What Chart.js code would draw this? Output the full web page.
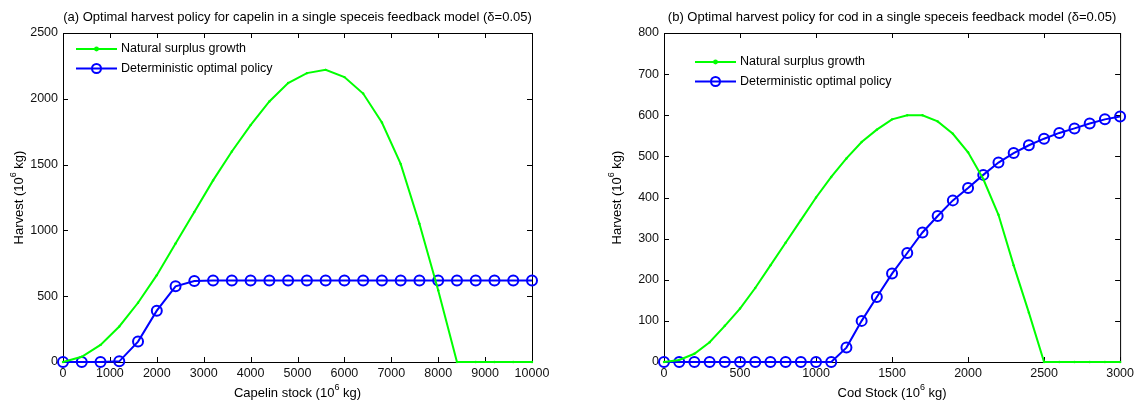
<!DOCTYPE html>
<html>
<head>
<meta charset="utf-8">
<script src="https://cdn.jsdelivr.net/npm/chart.js@4/dist/chart.umd.min.js"></script>
<style>
  body { margin: 0; background: #fff; }
  canvas { position: absolute; top: 0; }
</style>
</head>
<body>
<canvas id="capelinChart" width="569" height="405" style="left:0"></canvas>
<canvas id="codChart" width="569" height="405" style="left:569px"></canvas>
<script>
// (a) capelin
const capelinStock = [0, 400, 800, 1200, 1600, 2000, 2400, 2800, 3200, 3600, 4000, 4400, 4800,
  5200, 5600, 6000, 6400, 6800, 7200, 7600, 8000, 8400, 8800, 9200, 9600, 10000];
const capelinSurplus = [0, 40, 130, 270, 450, 660, 900, 1140, 1380, 1600, 1800, 1980, 2120,
  2195, 2220, 2165, 2040, 1820, 1505, 1050, 545, 0, 0, 0, 0, 0];
const capelinPolicy = [0, 0, 0, 5, 155, 390, 575, 615, 620, 620, 620, 620, 620,
  620, 620, 620, 620, 620, 620, 620, 620, 620, 620, 620, 620, 620];
const capelinXTicks = [0, 1000, 2000, 3000, 4000, 5000, 6000, 7000, 8000, 9000, 10000];
const capelinYTicks = [0, 500, 1000, 1500, 2000, 2500];

// (b) cod
const codStock = [0, 100, 200, 300, 400, 500, 600, 700, 800, 900, 1000, 1100, 1200, 1300, 1400, 1500,
  1600, 1700, 1800, 1900, 2000, 2100, 2200, 2300, 2400, 2500, 2600, 2700, 2800, 2900, 3000];
const codSurplus = [0, 5, 20, 48, 88, 130, 180, 235, 290, 345, 400, 450, 495, 535, 565, 590,
  600, 600, 585, 555, 510, 445, 358, 235, 120, 0, 0, 0, 0, 0, 0];
const codPolicy = [0, 0, 0, 0, 0, 0, 0, 0, 0, 0, 0, 0, 35, 100, 158, 215,
  265, 315, 355, 393, 423, 455, 485, 508, 527, 543, 557, 568, 580, 590, 597];
const codXTicks = [0, 500, 1000, 1500, 2000, 2500, 3000];
const codYTicks = [0, 100, 200, 300, 400, 500, 600, 700, 800];

const seriesNames = ["Natural surplus growth", "Deterministic optimal policy"];
const FONT = "'Liberation Sans', Arial, sans-serif";

// text with a superscript part: [before, sup, after]
function drawSupText(ctx, parts, x, y, size) {
  ctx.font = size + "px " + FONT;
  const w1 = ctx.measureText(parts[0]).width;
  const w3 = ctx.measureText(parts[2]).width;
  ctx.font = Math.round(size * 0.7) + "px " + FONT;
  const w2 = ctx.measureText(parts[1]).width;
  let cx = x - (w1 + w2 + w3) / 2;
  ctx.textAlign = "left";
  ctx.textBaseline = "middle";
  ctx.font = size + "px " + FONT;
  ctx.fillText(parts[0], cx, y);
  cx += w1;
  ctx.font = Math.round(size * 0.7) + "px " + FONT;
  ctx.fillText(parts[1], cx, y - size * 0.4);
  cx += w2;
  ctx.font = size + "px " + FONT;
  ctx.fillText(parts[2], cx, y);
}

// matlab-like box, inward ticks, titles and legend
const matlabAxes = {
  id: "matlabAxes",
  beforeDatasetsDraw(chart, args, opts) {
    const { ctx, chartArea: a, scales } = chart;
    ctx.save();
    ctx.strokeStyle = "#000";
    ctx.lineWidth = 1;
    ctx.strokeRect(a.left + 0.5, a.top + 0.5, a.right - a.left, a.bottom - a.top);
    ctx.beginPath();
    scales.x.ticks.forEach(t => {
      const px = Math.round(scales.x.getPixelForValue(t.value)) + 0.5;
      ctx.moveTo(px, a.bottom); ctx.lineTo(px, a.bottom - 5);
      ctx.moveTo(px, a.top); ctx.lineTo(px, a.top + 5);
    });
    scales.y.ticks.forEach(t => {
      const py = Math.round(scales.y.getPixelForValue(t.value)) + 0.5;
      ctx.moveTo(a.left, py); ctx.lineTo(a.left + 5, py);
      ctx.moveTo(a.right, py); ctx.lineTo(a.right - 5, py);
    });
    ctx.stroke();
    ctx.restore();
  },
  afterDraw(chart, args, opts) {
    const { ctx, chartArea: a } = chart;
    ctx.save();
    ctx.fillStyle = "#000";
    // title
    ctx.font = "13px " + FONT;
    ctx.textAlign = "center";
    ctx.textBaseline = "middle";
    ctx.fillText(opts.title, (a.left + a.right) / 2, 17);
    // axis titles
    drawSupText(ctx, opts.xTitle, (a.left + a.right) / 2, 393, 13);
    ctx.translate(opts.yTitleX, (a.top + a.bottom) / 2);
    ctx.rotate(-Math.PI / 2);
    drawSupText(ctx, opts.yTitle, 0, 0, 13);
    ctx.restore();

    // legend
    ctx.save();
    chart.data.datasets.forEach((ds, i) => {
      const y = a.top + opts.legendY + i * 19.5;
      const x0 = a.left + opts.legendX;
      ctx.strokeStyle = ds.borderColor;
      ctx.lineWidth = 2;
      ctx.beginPath();
      ctx.moveTo(x0, y); ctx.lineTo(x0 + 41, y);
      ctx.stroke();
      ctx.beginPath();
      if (ds.pointRadius > 3) {
        ctx.arc(x0 + 20.5, y, ds.pointRadius - 0.5, 0, Math.PI * 2);
        ctx.stroke();
      } else {
        ctx.fillStyle = ds.borderColor;
        ctx.arc(x0 + 20.5, y, 2.4, 0, Math.PI * 2);
        ctx.fill();
      }
      ctx.fillStyle = "#000";
      ctx.font = "12.5px " + FONT;
      ctx.textAlign = "left";
      ctx.textBaseline = "middle";
      ctx.fillText(ds.label, x0 + 45, y);
    });
    ctx.restore();
  }
};

function makeChart(id, xs, surplus, policy, xTicks, yTicks, padRight, yWidth, axesOpts) {
  const toPts = vals => vals.map((v, i) => ({ x: xs[i], y: v }));
  return new Chart(document.getElementById(id), {
    type: "line",
    data: {
      datasets: [
        {
          label: seriesNames[0],
          data: toPts(surplus),
          borderColor: "#00ff00",
          backgroundColor: "#00ff00",
          borderWidth: 2,
          pointRadius: 1.2,
          pointBorderWidth: 0,
          tension: 0,
          clip: false,
        },
        {
          label: seriesNames[1],
          data: toPts(policy),
          borderColor: "#0000ff",
          backgroundColor: "rgba(0,0,0,0)",
          borderWidth: 2,
          pointRadius: 5,
          pointBorderWidth: 2,
          tension: 0,
          clip: false,
        },
      ],
    },
    options: {
      responsive: false,
      animation: false,
      devicePixelRatio: 1,
      layout: { padding: { top: 33, right: padRight, left: 0, bottom: 0 } },
      plugins: {
        legend: { display: false },
        tooltip: { enabled: false },
        matlabAxes: axesOpts,
      },
      scales: {
        x: {
          type: "linear",
          min: xTicks[0],
          max: xTicks[xTicks.length - 1],
          grid: { display: false, drawTicks: false },
          border: { display: false },
          afterBuildTicks: s => { s.ticks = xTicks.map(v => ({ value: v })); },
          afterFit: s => { s.height = 43; },
          ticks: {
            padding: 4,
            maxRotation: 0,
            autoSkip: false,
            color: "#111",
            font: { family: FONT, size: 12.5 },
            callback: v => String(v),
          },
        },
        y: {
          type: "linear",
          min: yTicks[0],
          max: yTicks[yTicks.length - 1],
          grid: { display: false, drawTicks: false },
          border: { display: false },
          afterBuildTicks: s => { s.ticks = yTicks.map(v => ({ value: v })); },
          afterFit: s => { s.width = yWidth; },
          ticks: {
            padding: 5,
            autoSkip: false,
            color: "#111",
            font: { family: FONT, size: 12.5 },
            callback: v => String(v),
          },
        },
      },
    },
    plugins: [matlabAxes],
  });
}

makeChart("capelinChart", capelinStock, capelinSurplus, capelinPolicy, capelinXTicks, capelinYTicks, 37, 63, {
  title: "(a) Optimal harvest policy for capelin in a single speceis feedback model (\u03b4=0.05)",
  xTitle: ["Capelin stock (10", "6", " kg)"],
  yTitle: ["Harvest (10", "6", " kg)"],
  yTitleX: 19,
  legendX: 13,
  legendY: 16,
});

makeChart("codChart", codStock, codSurplus, codPolicy, codXTicks, codYTicks, 17, 95, {
  title: "(b) Optimal harvest policy for cod in a single speceis feedback model (\u03b4=0.05)",
  xTitle: ["Cod Stock (10", "6", " kg)"],
  yTitle: ["Harvest (10", "6", " kg)"],
  yTitleX: 48,
  legendX: 31,
  legendY: 29,
});
</script>
</body>
</html>
